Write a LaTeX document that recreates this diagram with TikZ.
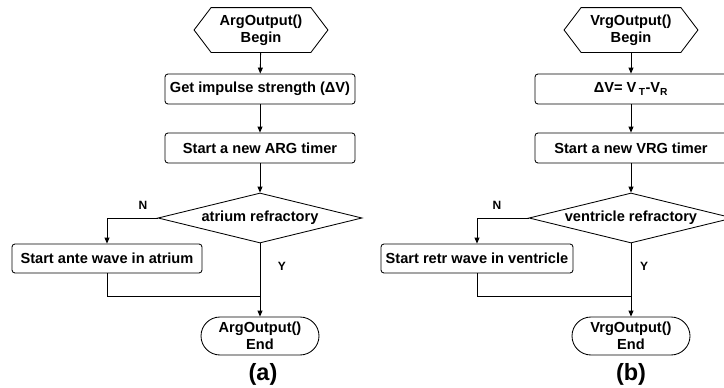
\documentclass[tikz,border=0pt]{standalone}
\usepackage{fontspec}
\setmainfont{Liberation Sans}
\usetikzlibrary{arrows.meta,shapes.geometric,shapes.misc}
\begin{document}
\begin{tikzpicture}[x=1pt,y=-1pt,line width=0.85pt,
  every node/.style={font=\bfseries\fontsize{14.6}{17}\selectfont,align=center,inner sep=0pt},
  hexnode/.style={minimum width=99pt,minimum height=44pt},
  proc/.style={draw,rounded corners=3pt,minimum width=190pt,minimum height=30pt},
  decision/.style={draw,diamond,aspect=4,minimum width=204pt,minimum height=50pt},
  terminal/.style={draw,rounded rectangle,minimum width=118pt,minimum height=38pt},
  branch/.style={font=\bfseries\fontsize{12}{14}\selectfont},
  caption/.style={font=\bfseries\fontsize{23.5}{26}\selectfont},
  flow/.style={-{Triangle[length=6pt,width=5pt]}}]
\useasboundingbox (0,0) rectangle (724,388);
\clip (0,0) rectangle (724,388);

% hexagon outline around a begin node
\newcommand{\hexframe}[1]{%
  \draw (#1.north west) -- (#1.north east) -- ([xshift=17pt]#1.east)
        -- (#1.south east) -- (#1.south west) -- ([xshift=-17pt]#1.west) -- cycle;}

% ---------- (a) atrium ----------
\node[hexnode] (ah) at (261,30) {ArgOutput()\\Begin};
\hexframe{ah}
\node[proc] (a1) at (260,89) {Get impulse strength (ΔV)};
\node[proc] (a2) at (260,148) {Start a new ARG timer};
\node[decision] (ad) at (260,218) {atrium refractory};
\node[proc,minimum height=29pt] (a3) at (107,258.5) {Start ante wave in atrium};
\node[terminal] (at) at (260,336) {ArgOutput()\\End};
\coordinate (aj) at (260,296);
\node[branch] (aN) at (143,205) {N};
\node[branch] (aY) at (282,266) {Y};
\node[caption] (acap) at (263,374) {(a)};

\draw[flow] (ah) -- (a1);
\draw[flow] (a1) -- (a2);
\draw[flow] (a2) -- (ad);
\draw[flow] (ad) -- (at);
\draw[flow] (ad.west) -| (a3.north);
\draw (a3.south) |- (aj);

% ---------- (b) ventricle ----------
\node[hexnode] (bh) at (631,30) {VrgOutput()\\Begin};
\hexframe{bh}
\node[proc,minimum width=192pt] (b1) at (631,89) {ΔV= V\,\textsubscript{T}-V\textsubscript{R}};
\node[proc,minimum width=192pt] (b2) at (631,148) {Start a new VRG timer};
\node[decision] (bd) at (631,218) {ventricle refractory};
\node[proc,minimum width=192pt,minimum height=29pt] (b3) at (477,258.5) {Start retr wave in ventricle};
\node[terminal] (bt) at (631,336) {VrgOutput()\\End};
\coordinate (bj) at (631,296);
\node[branch] (bN) at (497,205) {N};
\node[branch] (bY) at (644,266) {Y};
\node[caption] (bcap) at (631,374) {(b)};

\draw[flow] (bh) -- (b1);
\draw[flow] (b1) -- (b2);
\draw[flow] (b2) -- (bd);
\draw[flow] (bd) -- (bt);
\draw[flow] (bd.west) -| (b3.north);
\draw (b3.south) |- (bj);
\end{tikzpicture}
\end{document}
